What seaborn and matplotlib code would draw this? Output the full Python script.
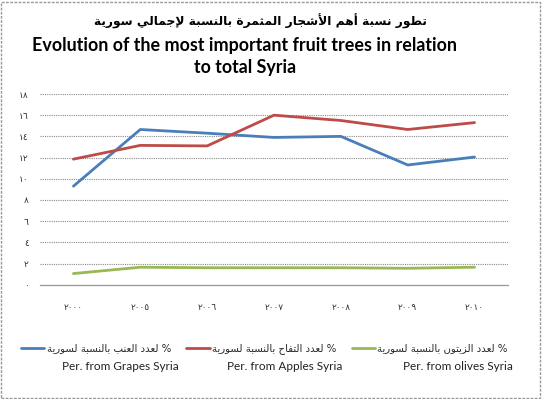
import numpy as np
import pandas as pd
import matplotlib
matplotlib.use("Agg")
import matplotlib.pyplot as plt
from matplotlib.patches import Rectangle
import seaborn as sns

# ---------------- data ----------------
years = ["٢٠٠٠", "٢٠٠٥", "٢٠٠٦", "٢٠٠٧", "٢٠٠٨", "٢٠٠٩", "٢٠١٠"]
grapes = [9.3, 14.65, 14.3, 13.9, 14.0, 11.3, 12.05]
apples = [11.85, 13.15, 13.1, 16.0, 15.5, 14.65, 15.3]
olives = [1.05, 1.65, 1.6, 1.6, 1.6, 1.55, 1.65]
ytick_vals = [0, 2, 4, 6, 8, 10, 12, 14, 16, 18]
ytick_labels = ["٠", "٢", "٤", "٦", "٨", "١٠", "١٢", "١٤", "١٦", "١٨"]

title_ar = "تطور نسبة أهم الأشجار المثمرة بالنسبة لإجمالي سورية"
title_en1 = "Evolution of the most important fruit trees in relation"
title_en2 = "to total Syria"
series_ar = ["% لعدد العنب بالنسبة لسورية",
             "% لعدد التفاح بالنسبة لسورية",
             "% لعدد الزيتون بالنسبة لسورية"]
series_en = ["Per. from Grapes Syria", "Per. from Apples Syria", "Per. from olives Syria"]
colors = ["#4A7EBB", "#BE4B48", "#98B954"]

# ---------------- minimal Arabic shaping (visual order) ----------------
FORMS = {
    'ء': (0xFE80,), 'آ': (0xFE81, 0xFE82), 'أ': (0xFE83, 0xFE84), 'ؤ': (0xFE85, 0xFE86),
    'إ': (0xFE87, 0xFE88), 'ئ': (0xFE89, 0xFE8A, 0xFE8B, 0xFE8C), 'ا': (0xFE8D, 0xFE8E),
    'ب': (0xFE8F, 0xFE90, 0xFE91, 0xFE92), 'ة': (0xFE93, 0xFE94),
    'ت': (0xFE95, 0xFE96, 0xFE97, 0xFE98), 'ث': (0xFE99, 0xFE9A, 0xFE9B, 0xFE9C),
    'ج': (0xFE9D, 0xFE9E, 0xFE9F, 0xFEA0), 'ح': (0xFEA1, 0xFEA2, 0xFEA3, 0xFEA4),
    'خ': (0xFEA5, 0xFEA6, 0xFEA7, 0xFEA8), 'د': (0xFEA9, 0xFEAA), 'ذ': (0xFEAB, 0xFEAC),
    'ر': (0xFEAD, 0xFEAE), 'ز': (0xFEAF, 0xFEB0), 'س': (0xFEB1, 0xFEB2, 0xFEB3, 0xFEB4),
    'ش': (0xFEB5, 0xFEB6, 0xFEB7, 0xFEB8), 'ص': (0xFEB9, 0xFEBA, 0xFEBB, 0xFEBC),
    'ض': (0xFEBD, 0xFEBE, 0xFEBF, 0xFEC0), 'ط': (0xFEC1, 0xFEC2, 0xFEC3, 0xFEC4),
    'ظ': (0xFEC5, 0xFEC6, 0xFEC7, 0xFEC8), 'ع': (0xFEC9, 0xFECA, 0xFECB, 0xFECC),
    'غ': (0xFECD, 0xFECE, 0xFECF, 0xFED0), 'ف': (0xFED1, 0xFED2, 0xFED3, 0xFED4),
    'ق': (0xFED5, 0xFED6, 0xFED7, 0xFED8), 'ك': (0xFED9, 0xFEDA, 0xFEDB, 0xFEDC),
    'ل': (0xFEDD, 0xFEDE, 0xFEDF, 0xFEE0), 'م': (0xFEE1, 0xFEE2, 0xFEE3, 0xFEE4),
    'ن': (0xFEE5, 0xFEE6, 0xFEE7, 0xFEE8), 'ه': (0xFEE9, 0xFEEA, 0xFEEB, 0xFEEC),
    'و': (0xFEED, 0xFEEE), 'ى': (0xFEEF, 0xFEF0), 'ي': (0xFEF1, 0xFEF2, 0xFEF3, 0xFEF4),
}
LAMALEF = {'آ': (0xFEF5, 0xFEF6), 'أ': (0xFEF7, 0xFEF8), 'إ': (0xFEF9, 0xFEFA), 'ا': (0xFEFB, 0xFEFC)}


def shape_ar(text):
    units = []
    i = 0
    while i < len(text):
        c = text[i]
        if c == 'ل' and i + 1 < len(text) and text[i + 1] in LAMALEF:
            units.append(('LA', text[i + 1]))
            i += 2
        else:
            units.append(('C', c))
            i += 1

    def is_ar(u):
        return u[0] == 'LA' or u[1] in FORMS

    def dual(u):
        return u[0] == 'C' and u[1] in FORMS and len(FORMS[u[1]]) == 4

    out = []
    for k, u in enumerate(units):
        if not is_ar(u):
            out.append(u[1])
            continue
        prev_j = k > 0 and dual(units[k - 1])
        next_j = dual(u) and k + 1 < len(units) and is_ar(units[k + 1])
        if u[0] == 'LA':
            iso, fin = LAMALEF[u[1]]
            out.append(chr(fin if prev_j else iso))
            continue
        f = FORMS[u[1]]
        if len(f) == 1:
            out.append(chr(f[0]))
        elif len(f) == 2:
            out.append(chr(f[1] if prev_j else f[0]))
        else:
            if prev_j and next_j:
                out.append(chr(f[3]))
            elif prev_j:
                out.append(chr(f[1]))
            elif next_j:
                out.append(chr(f[2]))
            else:
                out.append(chr(f[0]))
    return ''.join(out)[::-1]


# ---------------- figure ----------------
sns.set_theme(style="white")
plt.rcParams['font.family'] = ['Lato', 'DejaVu Sans']

fig = plt.figure(figsize=(5.42, 3.99), dpi=100)
W, H = 542, 399
ax = fig.add_axes([40 / W, 1 - 284.7 / H, 468 / W, (284.7 - 94) / H])

labels_vis = [shape_ar(s) for s in series_ar]
df = pd.concat([
    pd.DataFrame({"year": years, "value": vals, "series": lab})
    for vals, lab in zip([grapes, apples, olives], labels_vis)
])

sns.lineplot(data=df, x="year", y="value", hue="series", palette=colors,
             linewidth=2.0, ax=ax, sort=False, legend=True)

ax.set_xlim(-0.5, len(years) - 0.5)
ax.set_ylim(0, 18)
ax.set_yticks(ytick_vals)
ax.set_yticklabels(ytick_labels, family=['DejaVu Sans'], fontsize=6.5, color='#333333')
ax.set_xticks(range(len(years)))
ax.set_xticklabels(years, family=['DejaVu Sans'], fontsize=6.5, color='#333333')
ax.set_xticks(np.arange(-0.5, len(years), 1), minor=True)
ax.tick_params(axis='x', which='major', length=0, pad=13)
ax.tick_params(axis='x', which='minor', length=3, color='#999999', direction='out')
ax.tick_params(axis='y', length=0, pad=8)
ax.set_xlabel("")
ax.set_ylabel("")
ax.yaxis.grid(True, linestyle=(0, (1, 1)), color='#8a8a8a', linewidth=0.8)
ax.set_axisbelow(True)
for s in ['left', 'top', 'right']:
    ax.spines[s].set_visible(False)
ax.spines['bottom'].set_color('#9a9a9a')
ax.spines['bottom'].set_linewidth(0.9)
ax.spines['bottom'].set_linestyle((0, (1, 1)))

# legend
handles, labels = ax.get_legend_handles_labels()
ax.legend(handles, labels, ncol=3, frameon=False, loc='center left',
          bbox_to_anchor=(21 / W, 1 - 349 / H), bbox_transform=fig.transFigure,
          handlelength=2.3, handletextpad=0.25, columnspacing=1.5,
          borderaxespad=0, borderpad=0,
          prop={'family': ['DejaVu Sans'], 'size': 7.3})
for txt, xr in zip(series_en, [179, 342, 513]):
    fig.text(xr / W, 1 - 366 / H, txt, ha='right', va='center', fontsize=8.5, color='#222222')

# titles
fig.text(260 / W, 1 - 21 / H, shape_ar(title_ar), ha='center', va='center',
         fontsize=8.8, fontweight='bold', family=['DejaVu Sans'], color='black')
fig.text(245 / W, 1 - 45 / H, title_en1, ha='center', va='center', fontsize=12.9,
         fontweight='bold', color='black')
fig.text(245 / W, 1 - 67 / H, title_en2, ha='center', va='center', fontsize=12.9,
         fontweight='bold', color='black')

# outer dashed frame
fig.patches.append(Rectangle((1 / W, 1 / H), (W - 3) / W, (H - 3) / H, transform=fig.transFigure,
                             fill=False, ec='#999999', lw=1, ls=(0, (2, 1))))

fig.savefig("out.png", dpi=100)
